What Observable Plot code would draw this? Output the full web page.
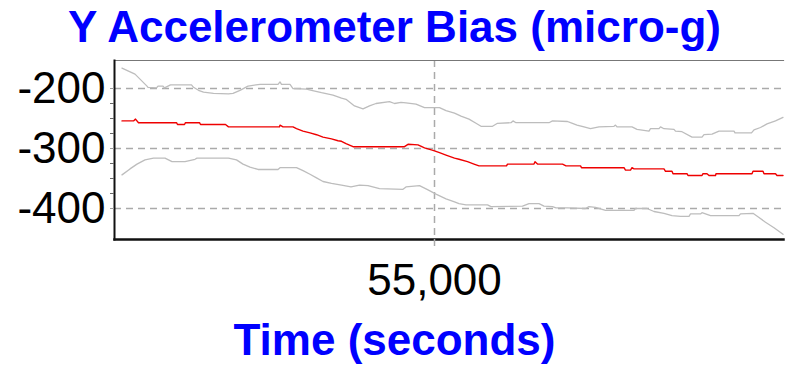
<!DOCTYPE html>
<html>
<head>
<meta charset="utf-8">
<script src="https://cdn.jsdelivr.net/npm/d3@7"></script>
<script src="https://cdn.jsdelivr.net/npm/@observablehq/plot@0.6"></script>
<style>
  body { margin: 0; background: white; }
  .lbl { width: 789px; text-align: center; font-family: "Liberation Sans", Arial, sans-serif; font-weight: bold; font-size: 44px; color: #0000ff; white-space: nowrap; box-sizing: border-box; }
  #title { height: 52px; line-height: 50px; padding-top: 2px; }
  #xlabel { height: 57px; line-height: 50px; padding-top: 5px; }
  #chart svg { display: block; }
</style>
</head>
<body>
<div id="title" class="lbl">Y Accelerometer Bias (micro-g)</div>
<div id="chart"></div>
<div id="xlabel" class="lbl">Time (seconds)</div>
<script>
// Upper bound (gray)
const upperTime = [48750,49010,49250,49270,49440,49470,49570,49600,49720,50140,50180,50280,50380,50580,50880,50970,51110,51270,51510,51870,51910,51940,52110,52170,52440,52540,52740,52970,53140,53230,53400,53570,53700,53830,54100,54200,54330,54430,54630,54800,55100,55230,55400,55530,55690,55830,55930,56160,56260,56530,56570,56630,57290,57360,57660,57720,57850,57990,58120,58290,58590,58620,58650,58950,59050,59290,59320,59490,59520,59590,59790,59820,59950,60150,60350,60390,60550,60690,60990,61010,61340,61390,61520,61650,61820,61970];
const upperBias = [-166,-176,-196,-198,-199,-196,-196,-199,-194,-194,-198,-203,-206,-208,-209,-208,-203,-196,-193,-193,-189,-193,-193,-200,-201,-203,-207,-211,-216,-218,-229,-234,-229,-225,-222,-225,-223,-224,-226,-232,-232,-237,-241,-246,-251,-258,-263,-263,-258,-257,-254,-257,-257,-254,-255,-257,-261,-264,-267,-264,-263,-261,-264,-264,-268,-271,-267,-267,-264,-267,-268,-271,-272,-281,-281,-277,-276,-271,-271,-274,-274,-269,-265,-259,-254,-248];

// Estimate (red)
const meanTime = [48750,48980,49020,49080,49840,49860,50000,50020,50300,50320,50820,50880,51900,51910,51970,52170,52240,52370,52510,52640,52770,52940,53070,53140,53230,53370,54400,54470,54670,54800,54970,55100,55230,55400,55490,55660,55790,55890,56440,56460,56990,57010,57060,57560,57630,57920,57940,58790,58820,58920,58950,58990,59590,59620,59750,59770,60050,60070,60350,60370,60450,60490,60620,60630,61350,61370,61570,61590,61820,61850,61970];
const meanBias = [-254,-254,-251,-257,-257,-260,-260,-257,-257,-260,-260,-264,-264,-261,-264,-264,-267,-271,-274,-277,-281,-284,-287,-288,-292,-297,-297,-293,-294,-299,-303,-307,-311,-316,-318,-322,-326,-329,-329,-326,-326,-322,-326,-326,-329,-329,-332,-332,-336,-336,-332,-334,-334,-338,-338,-342,-342,-345,-345,-342,-342,-345,-345,-342,-342,-338,-338,-342,-342,-345,-345];

// Lower bound (gray)
const lowerTime = [48750,48910,49050,49210,49380,49610,49750,50010,50210,50250,50880,51040,51170,51310,51470,51870,51910,52240,52370,52510,52640,52770,52940,53140,53330,53500,53670,53900,54370,54430,54700,54870,55030,55230,55400,55490,55630,56060,56130,56760,56890,57090,57190,57360,57430,57660,58020,58090,58220,58420,58990,59020,59250,59390,59590,59750,59920,60090,60120,60320,60350,60520,61090,61120,61370,61490,61620,61790,61970];
const lowerBias = [-344,-334,-326,-319,-316,-316,-322,-322,-318,-316,-316,-319,-326,-331,-335,-335,-332,-332,-337,-343,-349,-355,-358,-361,-364,-361,-362,-367,-368,-364,-362,-369,-376,-384,-389,-392,-394,-394,-397,-396,-392,-392,-396,-397,-399,-399,-400,-397,-398,-403,-403,-400,-400,-405,-408,-412,-413,-413,-409,-409,-407,-412,-412,-409,-408,-415,-423,-432,-443];

const yTicks = [-200, -300, -400];
const yMinorTicks = [-225, -250, -275, -325, -350, -375];
const xTicks = [55000];
const xDomain = [48600, 61980];
const yDomain = [-451.7, -153.3];

const toRows = (t, v) => t.map((d, i) => ({time: d, bias: v[i]}));
const upper = toRows(upperTime, upperBias);
const mean = toRows(meanTime, meanBias);
const lower = toRows(lowerTime, lowerBias);

const chart = Plot.plot({
  width: 789,
  height: 258,
  marginLeft: 114,
  marginRight: 6,
  marginTop: 8,
  marginBottom: 71,
  style: {fontFamily: "'Liberation Sans', Arial, sans-serif", background: "white", overflow: "visible"},
  x: {domain: xDomain, label: null},
  y: {domain: yDomain, label: null},
  marks: [
    Plot.gridY(yTicks, {stroke: "#aaa", strokeOpacity: 1, strokeWidth: 1.5, strokeDasharray: "7,5"}),
    Plot.gridX(xTicks, {stroke: "#aaa", strokeOpacity: 1, strokeWidth: 1.5, strokeDasharray: "7,5"}),
    Plot.line(upper, {x: "time", y: "bias", stroke: "#bdbdbd", strokeWidth: 1.3}),
    Plot.line(lower, {x: "time", y: "bias", stroke: "#bdbdbd", strokeWidth: 1.3}),
    Plot.line(mean, {x: "time", y: "bias", stroke: "#ee0000", strokeWidth: 1.4}),
    Plot.frame({anchor: "top", stroke: "#777", strokeWidth: 1.2}),
    Plot.frame({anchor: "left", stroke: "#111", strokeWidth: 2}),
    Plot.frame({anchor: "bottom", stroke: "#111", strokeWidth: 2.5}),
    Plot.axisY(yTicks, {tickSize: 4, tickPadding: 5, fontSize: 44, tickFormat: d => String(d), stroke: "#999", fill: "black", label: null}),
    Plot.axisY(yMinorTicks, {tickSize: 4, tickPadding: 5, tickFormat: () => "", stroke: "#666", label: null}),
    Plot.axisX(xTicks, {tickSize: 12, tickPadding: 12, fontSize: 44, tickFormat: d3.format(","), stroke: "#aaa", strokeWidth: 1.5, strokeDasharray: "7,5", fill: "black", label: null})
  ]
});
document.getElementById("chart").appendChild(chart);
</script>
</body>
</html>
